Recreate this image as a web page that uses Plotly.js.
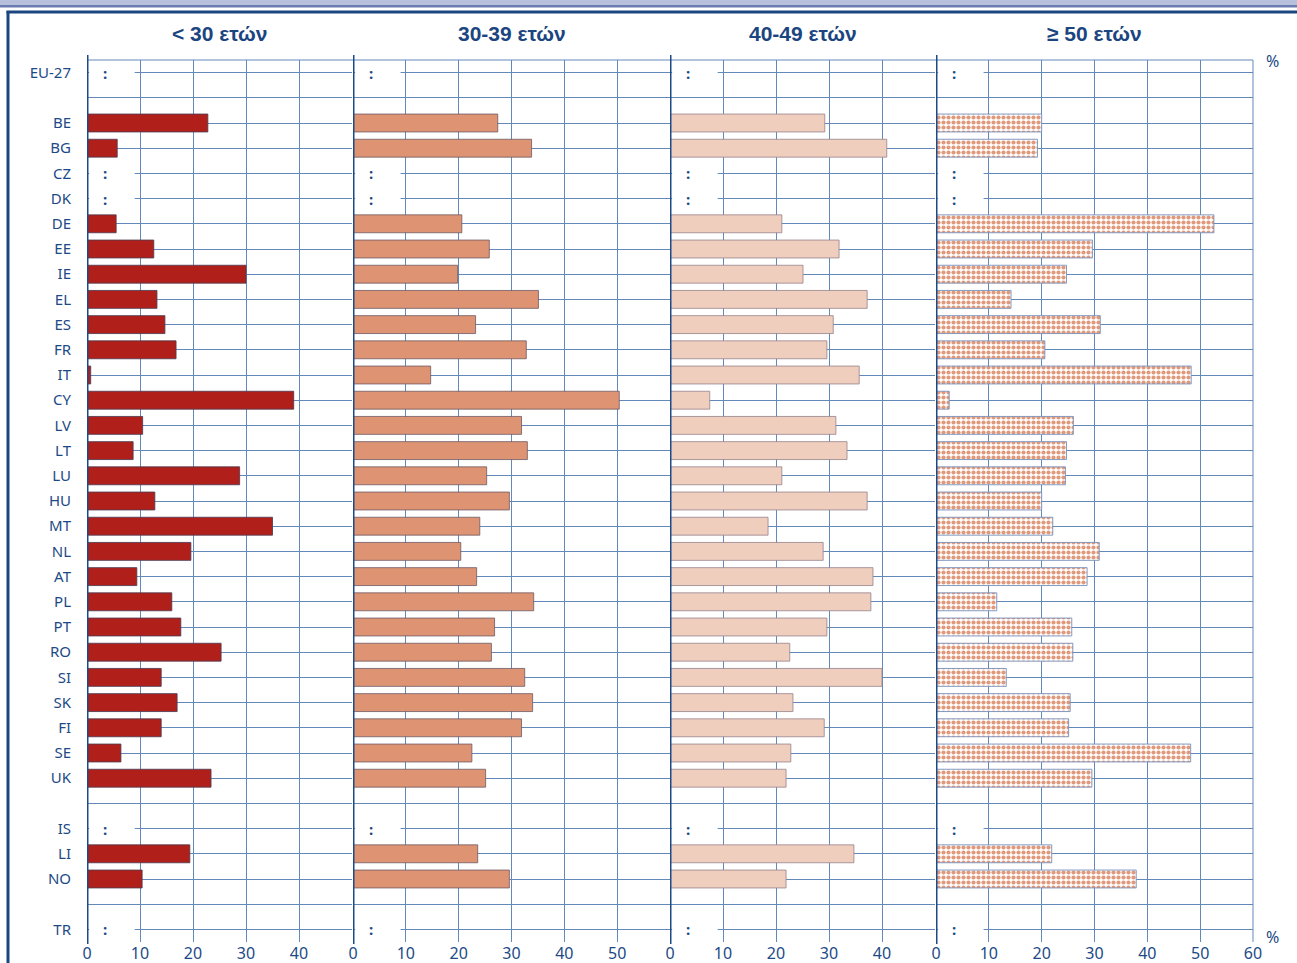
<!DOCTYPE html>
<html>
<head>
<meta charset="utf-8">
<script src="https://cdn.plot.ly/plotly-3.0.1.min.js"></script>
<style>html,body{margin:0;padding:0;background:#fff;}#chart{width:1297px;height:963px;}</style>
</head>
<body>
<div id="chart"></div>
<script>
// ---- data ----
const countries = ["EU-27","BE","BG","CZ","DK","DE","EE","IE","EL","ES","FR","IT","CY","LV","LT","LU","HU","MT","NL","AT","PL","PT","RO","SI","SK","FI","SE","UK","IS","LI","NO","TR"];
// row order including blank separator rows
const rowOrder = ["EU-27"," ","BE","BG","CZ","DK","DE","EE","IE","EL","ES","FR","IT","CY","LV","LT","LU","HU","MT","NL","AT","PL","PT","RO","SI","SK","FI","SE","UK","  ","IS","LI","NO","   ","TR"];
const groupTitles = ["< 30 ετών","30-39 ετών","40-49 ετών","≥ 50 ετών"];
const under30 = [null,22.8,5.7,null,null,5.5,12.6,30.0,13.2,14.7,16.8,0.7,39.0,10.5,8.7,28.8,12.8,35.0,19.6,9.4,16.0,17.7,25.3,14.0,17.0,14.0,6.4,23.4,null,19.4,10.4,null];
const age30_39 = [null,27.4,33.8,null,null,20.6,25.8,19.8,35.1,23.2,32.8,14.7,50.4,31.9,33.0,25.3,29.6,24.0,20.4,23.4,34.2,26.8,26.2,32.5,34.0,31.9,22.5,25.1,null,23.6,29.6,null];
const age40_49 = [null,29.2,40.9,null,null,21.1,31.9,25.1,37.2,30.8,29.6,35.7,7.5,31.3,33.4,21.1,37.2,18.5,28.9,38.3,37.9,29.6,22.6,40.0,23.2,29.1,22.8,21.9,null,34.7,21.9,null];
const age50plus = [null,20.0,19.2,null,null,52.6,29.6,24.7,14.2,31.1,20.6,48.3,2.5,26.0,24.7,24.5,20.0,22.1,30.9,28.6,11.5,25.7,25.9,13.3,25.4,25.1,48.2,29.5,null,21.9,37.9,null];
const xTicks1 = [0,10,20,30,40];
const xTicks2 = [0,10,20,30,40,50];
const xTicks3 = [0,10,20,30,40];
const xTicks4 = [0,10,20,30,40,50,60];

// ---- styling ----
const W = 1297, H = 963;
const px = v => v / W;
const py = v => 1 - v / H;
const dark = '#1d4a86';
const gridC = '#6389bb';
const panels = [
  {vals: under30, ax: 'x', dom: [87, 352], range: [0, 50], ticks: xTicks1, color: '#b11f1b', line: 'rgba(80,60,80,0.85)'},
  {vals: age30_39, ax: 'x2', dom: [353, 670], range: [0, 60], ticks: xTicks2, color: '#de9373', line: 'rgba(110,90,100,0.8)'},
  {vals: age40_49, ax: 'x3', dom: [670, 935], range: [0, 50], ticks: xTicks3, color: '#f0cebe', line: 'rgba(150,130,140,0.8)'},
  {vals: age50plus, ax: 'x4', dom: [936, 1253], range: [0, 60], ticks: xTicks4, color: '#ffffff', line: 'rgba(120,145,190,0.9)', pattern: true}
];

const traces = panels.map((p, i) => {
  const t = {
    type: 'bar', orientation: 'h',
    x: p.vals, y: countries,
    xaxis: p.ax, yaxis: 'y',
    width: 0.71,
    marker: {color: p.color, line: {color: p.line, width: 1}},
    hoverinfo: 'x+y', showlegend: false
  };
  if (p.pattern) {
    t.marker.pattern = {shape: '.', fgcolor: '#e09a7b', bgcolor: '#ffffff', size: 5, solidity: 0.55, fillmode: 'replace'};
  }
  return t;
});

const fontMain = '"Noto Sans", "Open Sans", Arial, sans-serif';
const fontNarrow = '"Liberation Sans Narrow", "Noto Sans", Arial, sans-serif';

const layout = {
  width: W, height: H,
  margin: {l: 0, r: 0, t: 0, b: 0},
  paper_bgcolor: '#ffffff', plot_bgcolor: 'rgba(0,0,0,0)',
  bargap: 0.29,
  yaxis: {
    type: 'category', categoryorder: 'array', categoryarray: rowOrder,
    range: [rowOrder.length - 0.5, -0.5],
    domain: [py(942), py(60)],
    anchor: 'x',
    showgrid: true, gridcolor: gridC, gridwidth: 1,
    zeroline: false, showline: false,
    ticks: 'outside', ticklen: 12, tickcolor: 'rgba(0,0,0,0)',
    tickfont: {family: fontMain, size: 15, color: dark},
    fixedrange: true
  },
  shapes: [], annotations: []
};

panels.forEach((p, i) => {
  const key = i === 0 ? 'xaxis' : 'xaxis' + (i + 1);
  layout[key] = {
    domain: [px(p.dom[0]), px(p.dom[1])],
    range: p.range, anchor: 'y',
    tickvals: p.ticks, ticktext: p.ticks.map(String),
    showgrid: true, gridcolor: gridC, gridwidth: 1,
    zeroline: false, showline: false, ticks: '',
    ticklabelstandoff: 0,
    tickfont: {family: fontNarrow, size: 16, color: dark},
    fixedrange: true
  };
  // panel title
  layout.annotations.push({
    xref: 'paper', yref: 'paper',
    x: px((p.dom[0] + p.dom[1]) / 2),
    y: py(34), xanchor: 'center', yanchor: 'middle', showarrow: false,
    text: '<b>' + groupTitles[i] + '</b>',
    font: {family: '"Liberation Sans", Arial, sans-serif', size: 21, color: '#1b4580'}
  });
  // missing-value markers ":"
  p.vals.forEach((v, k) => {
    if (v === null) {
      layout.shapes.push({
        type: 'line', xref: p.ax, yref: 'y',
        x0: 0.4, x1: 9, y0: countries[k], y1: countries[k],
        line: {color: '#ffffff', width: 3}, layer: 'above'
      });
      layout.annotations.push({
        xref: p.ax, yref: 'y', x: 3.4, y: countries[k],
        xanchor: 'center', yanchor: 'middle', showarrow: false,
        text: '<b>:</b>', font: {family: fontMain, size: 15, color: dark}
      });
    }
  });
});

// top grid border
layout.shapes.push({type: 'line', xref: 'paper', yref: 'paper', x0: px(87), x1: px(1253), y0: py(60), y1: py(60), line: {color: gridC, width: 1}});
// right grid border
layout.shapes.push({type: 'line', xref: 'paper', yref: 'paper', x0: px(1253), x1: px(1253), y0: py(60), y1: py(942), line: {color: gridC, width: 1}});
// thick panel axis lines
panels.forEach(p => {
  layout.shapes.push({type: 'line', xref: p.ax, yref: 'paper', x0: 0, x1: 0, y0: py(55), y1: py(944), line: {color: dark, width: 3}, layer: 'above'});
});
// frame decorations
layout.shapes.push({type: 'rect', xref: 'paper', yref: 'paper', x0: 0, x1: 1, y0: py(0), y1: py(5), fillcolor: '#b6bfdc', line: {width: 0}});
layout.shapes.push({type: 'rect', xref: 'paper', yref: 'paper', x0: 0, x1: 1, y0: py(5), y1: py(7.5), fillcolor: '#6a7bb0', line: {width: 0}});
layout.shapes.push({type: 'line', xref: 'paper', yref: 'paper', x0: px(6.5), x1: 1, y0: py(12), y1: py(12), line: {color: '#1a4680', width: 3}});
layout.shapes.push({type: 'line', xref: 'paper', yref: 'paper', x0: px(8), x1: px(8), y0: py(11), y1: py(963), line: {color: '#1a4680', width: 3}});
// % labels
[61, 937].forEach(yy => {
  layout.annotations.push({xref: 'paper', yref: 'paper', x: px(1272), y: py(yy), xanchor: 'center', yanchor: 'middle', showarrow: false, text: '%', font: {family: fontNarrow, size: 16, color: dark}});
});

Plotly.newPlot('chart', traces, layout, {displayModeBar: false, staticPlot: true});
</script>
</body>
</html>
